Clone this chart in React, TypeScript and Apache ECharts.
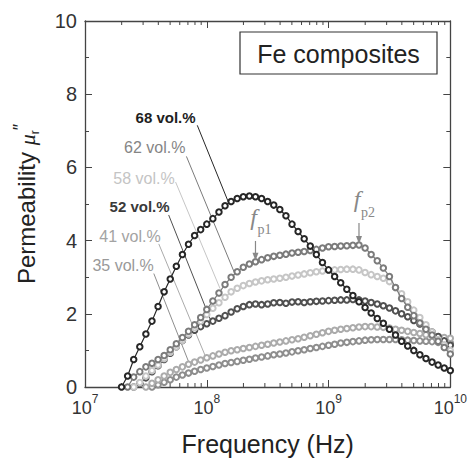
import React, { useEffect, useRef } from "react";
import * as echarts from "echarts";

// log10(frequency / Hz) sampling grid shared by all curves
const logFreq = [
  7.3, 7.35, 7.4, 7.45, 7.5, 7.55, 7.6, 7.65, 7.7, 7.75, 7.8, 7.85, 7.9, 7.95,
  8.0, 8.05, 8.1, 8.15, 8.2, 8.25, 8.3, 8.35, 8.4, 8.45, 8.5, 8.55, 8.6, 8.65,
  8.7, 8.75, 8.8, 8.85, 8.9, 8.95, 9.0, 9.05, 9.1, 9.15, 9.2, 9.25, 9.3, 9.35,
  9.4, 9.45, 9.5, 9.55, 9.6, 9.65, 9.7, 9.75, 9.8, 9.85, 9.9, 9.95, 10.0,
];

const names = ["35 vol.%", "41 vol.%", "52 vol.%", "58 vol.%", "62 vol.%", "68 vol.%"];

const mu35 = [
  null, null, null, null, null, 0.0, 0.06, 0.13, 0.2, 0.27, 0.33, 0.38, 0.43, 0.48,
  0.52, 0.56, 0.6, 0.64, 0.67, 0.7, 0.73, 0.76, 0.79, 0.82, 0.85, 0.88, 0.9, 0.93,
  0.96, 0.99, 1.02, 1.05, 1.08, 1.11, 1.14, 1.17, 1.2, 1.22, 1.24, 1.26, 1.28, 1.29,
  1.3, 1.3, 1.3, 1.3, 1.29, 1.28, 1.27, 1.26, 1.25, 1.24, 1.22, 1.21, 1.2,
];
const mu41 = [
  null, null, null, null, 0.0, 0.1, 0.2, 0.3, 0.4, 0.48, 0.55, 0.62, 0.68, 0.74,
  0.8, 0.85, 0.9, 0.95, 0.99, 1.02, 1.05, 1.08, 1.11, 1.14, 1.17, 1.2, 1.23, 1.26,
  1.29, 1.32, 1.36, 1.4, 1.44, 1.48, 1.52, 1.55, 1.58, 1.6, 1.62, 1.64, 1.65, 1.65,
  1.64, 1.63, 1.61, 1.58, 1.55, 1.52, 1.49, 1.46, 1.43, 1.4, 1.38, 1.35, 1.33,
];
const mu52 = [
  null, null, 0.0, 0.1, 0.25, 0.42, 0.58, 0.75, 0.92, 1.1, 1.27, 1.42, 1.55, 1.65,
  1.73, 1.8, 1.88, 1.95, 2.05, 2.14, 2.2, 2.25, 2.27, 2.25, 2.27, 2.3, 2.31, 2.29,
  2.32, 2.33, 2.31, 2.33, 2.34, 2.35, 2.36, 2.37, 2.38, 2.38, 2.39, 2.38, 2.35, 2.31,
  2.27, 2.22, 2.16, 2.08, 2.0, 1.92, 1.82, 1.72, 1.6, 1.5, 1.38, 1.26, 1.14,
];
const mu58 = [
  null, null, 0.0, 0.12, 0.3, 0.45, 0.6, 0.78, 0.95, 1.1, 1.28, 1.45, 1.62, 1.8,
  1.98, 2.15, 2.3, 2.45, 2.6, 2.7, 2.77, 2.83, 2.87, 2.9, 2.93, 2.95, 2.97, 3.0,
  3.03, 3.06, 3.09, 3.12, 3.15, 3.17, 3.19, 3.2, 3.21, 3.22, 3.22, 3.2, 3.13, 3.07,
  3.02, 2.97, 2.88, 2.72, 2.55, 2.33, 2.1, 1.9, 1.7, 1.5, 1.3, 1.15, 1.0,
];
const mu62 = [
  null, 0.0, 0.27, 0.42, 0.55, 0.65, 0.75, 0.86, 1.02, 1.18, 1.35, 1.52, 1.7, 1.9,
  2.12, 2.35, 2.57, 2.8, 3.0, 3.15, 3.27, 3.36, 3.42, 3.48, 3.53, 3.57, 3.6, 3.63,
  3.66, 3.68, 3.7, 3.73, 3.76, 3.8, 3.83, 3.84, 3.85, 3.86, 3.87, 3.88, 3.8, 3.62,
  3.45, 3.25, 3.02, 2.72, 2.42, 2.18, 1.95, 1.75, 1.58, 1.42, 1.25, 1.08, 0.9,
];
const mu68 = [
  0.0, 0.3, 0.75, 1.1, 1.45, 1.8, 2.2, 2.6, 2.95, 3.3, 3.62, 3.9, 4.14, 4.3,
  4.45, 4.6, 4.78, 4.95, 5.07, 5.15, 5.2, 5.22, 5.2, 5.15, 5.07, 4.97, 4.85, 4.68,
  4.45, 4.25, 4.05, 3.85, 3.62, 3.4, 3.2, 3.02, 2.85, 2.67, 2.5, 2.33, 2.17, 2.02,
  1.87, 1.74, 1.58, 1.42, 1.25, 1.12, 1.0, 0.88, 0.78, 0.68, 0.6, 0.52, 0.45,
];

const curves = [mu35, mu41, mu52, mu58, mu62, mu68];
const curveColors = ["#8e8e8e", "#ababab", "#505050", "#c6c6c6", "#7b7b7b", "#262626"];
const labelColors = ["#999999", "#a3a3a3", "#3a3a3a", "#c4c4c4", "#858585", "#1e1e1e"];
const labelBold = [false, false, true, false, false, true];

// label anchors (right end of text) and leader lines, in (log10 f, mu'') units
const labelAnchor = [
  [7.565, 3.32], [7.622, 4.1], [7.695, 4.92], [7.736, 5.71], [7.825, 6.55], [7.908, 7.36],
];
const leaderStart = [
  [7.565, 3.1], [7.606, 3.91], [7.687, 4.7], [7.744, 5.6], [7.833, 6.3], [7.922, 7.15],
];
const leaderEnd = [
  [7.865, 0.57], [7.995, 0.79], [8.036, 1.79], [8.109, 2.69], [8.23, 3.1], [8.18, 5.03],
];

// peak markers
const peakNames = ["p1", "p2"];
const peakX = [8.4, 9.25];
const peakArrowTop = [3.99, 4.48];
const peakArrowTip = [3.45, 3.91];

const xTickExponents = [7, 8, 9, 10];
const minorMultipliers = [2, 3, 4, 5, 6, 7, 8, 9];

const SANS = "'Liberation Sans', Arial, Helvetica, sans-serif";
const SERIF = "'Liberation Serif', 'Times New Roman', serif";
const AXIS_COLOR = "#444";

export default function App() {
  const ref = useRef<HTMLDivElement>(null);

  useEffect(() => {
    document.body.style.margin = "0";
    if (!ref.current) return;
    const chart = echarts.init(ref.current, undefined, { renderer: "svg" });

    const minorTicks: number[][] = [];
    xTickExponents.slice(0, -1).forEach((e) => {
      minorMultipliers.forEach((m) => minorTicks.push([e + Math.log10(m), 0]));
    });

    const dataSeries = curves.map((vals, i) => ({
      type: "line",
      name: names[i],
      data: vals
        .map((v, j) => (v === null ? null : [logFreq[j], v]))
        .filter((d) => d !== null),
      symbol: "emptyCircle",
      symbolSize: 5.5,
      showAllSymbol: true,
      smooth: false,
      lineStyle: { color: curveColors[i], width: 1.2 },
      itemStyle: { color: curveColors[i], borderColor: curveColors[i], borderWidth: 1.5 },
      z: 3 + i,
      silent: true,
    }));

    const tickStyle = { color: AXIS_COLOR, width: 1 };

    const option: any = {
      animation: false,
      backgroundColor: "#ffffff",
      grid: { left: 85, right: 15, top: 21, bottom: 72, containLabel: false },
      xAxis: [
        {
          type: "value",
          min: 7,
          max: 10,
          interval: 1,
          position: "bottom",
          name: "Frequency (Hz)",
          nameLocation: "middle",
          nameGap: 44,
          nameTextStyle: { fontSize: 25, fontFamily: SANS, color: "#222" },
          axisLine: { show: true, onZero: false, lineStyle: { color: AXIS_COLOR, width: 1.3 } },
          axisTick: { show: true, inside: true, length: 7, lineStyle: tickStyle },
          splitLine: { show: false },
          axisLabel: {
            show: true,
            margin: 6,
            showMinLabel: true,
            showMaxLabel: true,
            formatter: (v: number) => `{b|10}{s|${v}}`,
            rich: {
              b: { fontSize: 18, fontFamily: SANS, color: "#333", verticalAlign: "bottom", lineHeight: 24 },
              s: { fontSize: 12, fontFamily: SANS, color: "#333", verticalAlign: "top", lineHeight: 12 },
            },
          },
        },
        {
          type: "value",
          min: 7,
          max: 10,
          interval: 1,
          position: "top",
          axisLine: { show: true, onZero: false, lineStyle: { color: AXIS_COLOR, width: 1.3 } },
          axisTick: { show: true, inside: true, length: 7, lineStyle: tickStyle },
          axisLabel: { show: false },
          splitLine: { show: false },
        },
      ],
      yAxis: [
        {
          type: "value",
          min: 0,
          max: 10,
          interval: 2,
          position: "left",
          name: "{a|Permeability }{m|μ}{r|r}{q|″}",
          nameLocation: "middle",
          nameRotate: 90,
          nameGap: 44,
          nameTextStyle: {
            rich: {
              a: { fontSize: 24, fontFamily: SANS, color: "#222", verticalAlign: "bottom", lineHeight: 30, padding: [0, 0, 3, 0] },
              m: { fontSize: 22, fontFamily: SERIF, fontStyle: "italic", color: "#222", verticalAlign: "bottom", lineHeight: 30, padding: [0, 0, 3, 0] },
              r: { fontSize: 12, fontFamily: SANS, color: "#222", verticalAlign: "bottom", lineHeight: 30 },
              q: { fontSize: 18, fontFamily: SANS, color: "#222", verticalAlign: "top", lineHeight: 18 },
            },
          },
          axisLine: { show: true, onZero: false, lineStyle: { color: AXIS_COLOR, width: 1.3 } },
          axisTick: { show: true, inside: true, length: 7, lineStyle: tickStyle },
          minorTick: { show: true, splitNumber: 2, length: 4, lineStyle: tickStyle },
          splitLine: { show: false },
          axisLabel: { show: true, margin: 8, fontSize: 20, fontFamily: SANS, color: "#333" },
        },
        {
          type: "value",
          min: 0,
          max: 10,
          interval: 2,
          position: "right",
          axisLine: { show: true, onZero: false, lineStyle: { color: AXIS_COLOR, width: 1.3 } },
          axisTick: { show: true, inside: true, length: 7, lineStyle: tickStyle },
          minorTick: { show: true, splitNumber: 2, length: 4, lineStyle: tickStyle },
          splitLine: { show: false },
          axisLabel: { show: false },
        },
      ],
      series: [
        {
          type: "custom",
          xAxisIndex: 0,
          yAxisIndex: 0,
          data: minorTicks,
          silent: true,
          clip: false,
          z: 1,
          encode: { x: 0, y: 1 },
          renderItem: (params: any, api: any) => {
            const x = api.value(0);
            const b = api.coord([x, 0]);
            const t = api.coord([x, 10]);
            return {
              type: "group",
              children: [
                { type: "line", shape: { x1: b[0], y1: b[1], x2: b[0], y2: b[1] - 4 }, style: { stroke: AXIS_COLOR, lineWidth: 1 } },
                { type: "line", shape: { x1: t[0], y1: t[1], x2: t[0], y2: t[1] + 4 }, style: { stroke: AXIS_COLOR, lineWidth: 1 } },
              ],
            };
          },
        },
        ...dataSeries,
      ],
    };

    chart.setOption(option);

    const px = (p: number[]) =>
      chart.convertToPixel({ xAxisIndex: 0, yAxisIndex: 0 }, p) as number[];

    const graphics: any[] = [];
    // leader lines and labels
    names.forEach((n, i) => {
      const s = px(leaderStart[i]);
      const e = px(leaderEnd[i]);
      graphics.push({
        type: "line",
        z: 2,
        silent: true,
        shape: { x1: s[0], y1: s[1], x2: e[0], y2: e[1] },
        style: { stroke: curveColors[i], lineWidth: 1 },
      });
      const a = px(labelAnchor[i]);
      graphics.push({
        type: "text",
        z: 20,
        silent: true,
        x: a[0],
        y: a[1],
        style: {
          text: n,
          fill: labelColors[i],
          font: labelBold[i] ? `bold 15px ${SANS}` : `16px ${SANS}`,
          align: "right",
          verticalAlign: "middle",
          textAlign: "right",
          textVerticalAlign: "middle",
        },
      });
    });

    // peak frequency arrows and labels
    peakNames.forEach((pn, i) => {
      const top = px([peakX[i], peakArrowTop[i]]);
      const tip = px([peakX[i], peakArrowTip[i]]);
      graphics.push({
        type: "line",
        z: 20,
        silent: true,
        shape: { x1: top[0], y1: top[1], x2: tip[0], y2: tip[1] - 6 },
        style: { stroke: "#888", lineWidth: 1.2 },
      });
      graphics.push({
        type: "polygon",
        z: 20,
        silent: true,
        shape: { points: [[tip[0] - 3, tip[1] - 8], [tip[0] + 3, tip[1] - 8], [tip[0], tip[1]]] },
        style: { fill: "#888" },
      });
      graphics.push({
        type: "text",
        z: 20,
        silent: true,
        x: top[0] - 2,
        y: top[1] - 12,
        style: {
          text: "f",
          fill: "#888",
          font: `italic 24px ${SERIF}`,
          align: "center",
          verticalAlign: "bottom",
          textAlign: "center",
          textVerticalAlign: "bottom",
        },
      });
      graphics.push({
        type: "text",
        z: 20,
        silent: true,
        x: top[0] + 2,
        y: top[1] - 4,
        style: {
          text: pn,
          fill: "#888",
          font: `14px ${SERIF}`,
          align: "left",
          verticalAlign: "bottom",
          textAlign: "left",
          textVerticalAlign: "bottom",
        },
      });
    });

    // inset title box
    graphics.push({
      type: "rect",
      z: 20,
      silent: true,
      shape: { x: 240, y: 32, width: 197, height: 42 },
      style: { fill: "#ffffff", stroke: "#333", lineWidth: 1.2 },
    });
    graphics.push({
      type: "text",
      z: 21,
      silent: true,
      x: 338.5,
      y: 53.5,
      style: {
        text: "Fe composites",
        fill: "#222",
        font: `25px ${SANS}`,
        align: "center",
        verticalAlign: "middle",
        textAlign: "center",
        textVerticalAlign: "middle",
      },
    });

    chart.setOption({ graphic: graphics });

    return () => chart.dispose();
  }, []);

  return <div ref={ref} style={{ width: 470, height: 461 }} />;
}
